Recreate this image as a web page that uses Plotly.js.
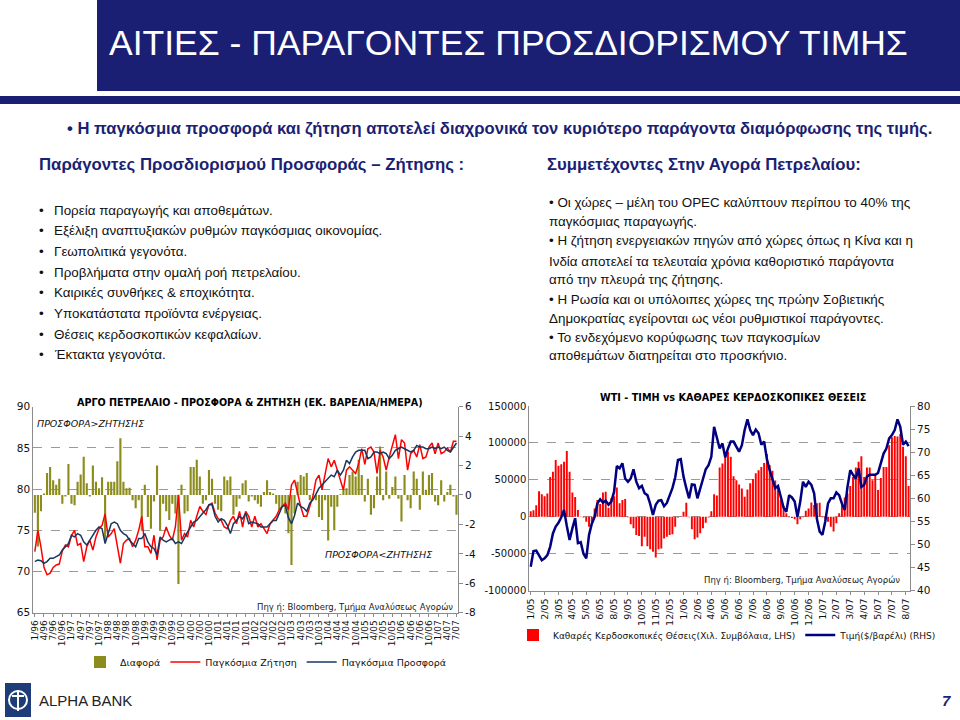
<!DOCTYPE html>
<html><head><meta charset="utf-8">
<script src="https://cdn.plot.ly/plotly-3.0.1.min.js"></script>
<style>html,body{margin:0;padding:0;background:#fff}#c{width:960px;height:720px}</style>
</head><body><div id="c"></div>
<script>
// ---------- Left chart: crude oil supply & demand (mb/d), monthly 1/96 - 7/07 ----------
const demand = [
 72.4,75.0,73.0,70.5,69.6,69.8,70.5,70.8,70.9,72.5,73.2,73.0,
 74.4,75.0,73.2,73.4,71.2,73.0,73.8,72.6,74.2,75.2,75.6,77.0,
 74.2,74.6,75.2,73.2,71.0,73.4,73.8,74.0,73.0,73.8,75.0,76.7,
 73.0,73.0,72.2,74.4,71.4,73.8,74.2,75.4,74.4,73.8,75.4,79.3,
 73.8,74.6,74.2,76.2,75.4,76.7,77.9,77.3,76.9,78.1,78.3,77.1,
 76.4,76.2,75.4,75.2,76.2,76.7,75.8,77.3,75.4,77.3,76.7,75.4,
 76.7,75.4,75.8,75.2,74.6,75.8,76.2,76.7,77.5,77.9,78.3,77.5,
 80.5,81.1,79.3,77.9,76.7,76.7,77.9,79.1,81.1,81.7,79.9,82.0,
 83.7,82.7,83.5,82.3,81.1,79.9,82.3,82.7,82.3,81.9,83.1,84.9,
 83.0,84.9,85.1,84.5,81.9,84.7,83.9,82.3,83.9,85.4,86.6,83.7,
 86.0,85.6,82.3,84.3,84.7,83.9,85.4,83.7,83.9,85.1,85.6,84.3,
 85.6,84.3,84.5,85.0,84.5,85.8,85.8];
const supply = [
 71.2,71.4,71.3,71.0,71.2,71.6,71.6,71.8,72.0,72.6,73.0,73.4,
 74.4,74.2,74.6,74.4,73.6,73.2,73.8,74.4,75.0,75.4,75.2,73.4,
 74.6,75.8,76.0,75.8,75.0,74.6,74.4,73.8,73.4,73.0,74.0,74.0,
 74.6,73.6,73.0,72.8,72.0,74.2,73.8,73.6,73.8,74.0,73.4,73.6,
 73.4,74.2,74.8,75.4,76.0,76.2,76.7,77.1,77.5,78.1,78.1,76.7,
 76.0,76.4,76.2,75.6,74.6,75.8,76.2,76.7,76.4,77.1,75.8,76.0,
 75.9,75.8,75.4,75.4,75.4,75.8,76.2,76.2,77.0,77.9,78.0,76.5,
 75.8,76.8,78.3,77.9,77.7,77.3,78.3,78.7,79.4,80.1,80.5,80.9,
 81.3,81.7,81.5,82.3,81.7,82.3,83.5,83.1,83.9,84.5,84.7,84.7,
 84.7,83.7,83.9,84.5,84.5,84.3,84.5,84.3,83.7,84.1,84.7,84.9,
 85.1,84.9,84.7,84.5,84.7,85.3,85.1,85.1,84.9,84.9,85.1,84.9,
 85.1,84.9,85.1,84.7,84.5,85.1,85.6];
const difference = [
 -1.2,-3.5,-1.1,0.1,1.5,1.9,1.0,0.7,1.1,-0.6,-0.1,2.1,
 -0.6,-0.7,0.9,1.4,2.6,0.8,-0.1,2.0,0.9,0.45,1.2,-3.1,
 0.9,0.9,0.9,2.3,3.85,0.9,0.45,0.5,-0.35,-0.9,-0.35,-2.4,
 0.7,-1.5,-2.3,-0.45,2.0,-2.4,-0.6,-1.1,-1.7,-0.6,-1.25,-6.05,
 0.7,-1.25,-1.1,1.9,1.9,2.4,1.25,-0.6,-0.35,1.7,1.1,-0.6,
 -1.0,-1.1,1.25,1.0,1.25,-1.35,-0.8,-0.25,0.8,1.0,-0.45,-0.1,
 -0.35,-0.6,-0.8,0.2,1.0,0.2,0.1,-0.6,-1.0,-0.8,-1.25,-2.6,
 -4.75,-1.25,0.9,1.35,1.25,1.5,-0.35,0.05,-0.35,-1.5,-1.7,-0.35,
 -3.1,-0.8,-2.4,-0.8,0.05,0.35,0.45,1.35,1.6,1.25,2.4,1.35,
 -0.45,1.1,-1.35,-0.9,1.25,3.3,-0.35,1.6,-0.25,0.55,1.25,-0.25,
 -1.8,1.35,-0.35,-0.9,1.6,1.1,-1.0,1.6,0.35,1.35,1.5,-0.45,
 -0.7,1.0,-0.45,0.2,0.7,-0.1,-1.35];
const monthTicks = ['1/96','4/96','7/96','10/96','1/97','4/97','7/97','10/97','1/98','4/98','7/98','10/98',
 '1/99','4/99','7/99','10/99','1/00','4/00','7/00','10/00','1/01','4/01','7/01','10/01','1/02','4/02','7/02','10/02',
 '1/03','4/03','7/03','10/03','1/04','4/04','7/04','10/04','1/05','4/05','7/05','10/05','1/06','4/06','7/06','10/06',
 '1/07','4/07','7/07'];
const diffTickVals = [-8, -6, -4, -2, 0, 2, 4, 6];
const diffTickText = ['-8', '-6', '-4', '-2', '0', '2', '4', '6'];

// ---------- Right chart: WTI price vs net speculative positions, weekly from 4 Jan 2005 ----------
const netPositions = [
 7600,9000,15800,34500,30700,28000,31600,54000,61000,77000,
 69000,71000,74600,89000,61000,33000,26800,9200,500,-1000,
 -6600,-13300,-6600,11400,22700,17300,33000,34000,12400,25000,
 28000,39700,18200,22700,24000,-500,-10000,-15600,-24600,-26000,
 -39700,-27000,-39700,-44000,-47400,-55000,-44000,-43000,-29300,-27000,
 -24600,-23500,-13300,-1000,500,7000,19000,-500,-16700,-30500,
 -28000,-22300,-15600,-8100,-1000,7600,30700,29000,66800,72300,
 86800,88000,81300,55000,49600,43900,38300,27000,37000,45400,
 51200,59000,63000,67600,73000,85000,70000,62500,49000,41000,
 22700,14500,4700,-500,-1700,-3400,-10000,-3400,-500,8300,
 11400,19500,16000,18200,19000,-500,-3400,-6600,-13300,-20000,
 -8800,4700,16000,26000,31600,41600,54000,66800,74600,82000,
 54000,66800,66800,49600,56500,36400,52500,67600,67600,97000,
 107600,109500,108600,112000,95000,82000,41600];
const wtiPrice = [
 45.2,48.6,48.7,47.7,46.6,47.0,47.7,49.5,52.4,53.9,
 54.7,55.9,57.5,54.0,51.0,53.5,55.7,50.3,50.5,48.0,
 47.0,52.1,54.5,56.0,58.9,59.8,59.1,59.5,58.6,59.3,
 61.4,67.0,66.5,67.6,64.3,63.6,64.3,66.3,63.6,62.2,
 62.7,61.1,60.7,58.8,56.4,58.6,59.5,59.6,58.3,59.0,
 60.4,62.2,64.5,68.3,68.5,64.7,62.2,60.0,63.0,62.9,
 60.0,62.3,64.5,66.3,67.2,69.0,75.5,73.4,70.8,71.9,
 68.9,70.8,72.3,72.3,71.2,70.1,71.5,74.8,77.1,74.8,
 73.7,74.9,74.1,71.6,72.3,68.5,66.1,64.3,62.2,62.7,
 60.0,58.0,57.1,60.7,60.2,59.3,56.0,59.3,63.6,62.5,
 63.6,62.9,61.1,55.5,52.8,52.1,55.0,58.9,60.0,60.0,
 61.3,60.7,58.9,57.5,62.5,66.1,65.1,64.3,66.5,62.5,
 62.9,64.7,65.1,65.1,65.1,65.5,67.5,69.7,70.8,73.0,
 73.7,74.8,77.1,75.5,71.6,72.3,71.3];
const weekTicks = ['1/05','2/05','3/05','4/05','5/05','6/05','8/05','9/05','10/05','11/05','12/05',
 '1/06','2/06','4/06','5/06','6/06','7/06','8/06','9/06','10/06','12/06','1/07','2/07','3/07','4/07','5/07','7/07','8/07'];
const posTickVals = [-100000, -50000, 0, 50000, 100000, 150000];
const posTickText = ['-100000', '-50000', '0', '50000', '100000', '150000'];

// ---------- categories ----------
const months = [];
for (let y = 1996; y <= 2007; y++) for (let m = 1; m <= 12; m++) {
  if (y === 2007 && m > 7) break;
  months.push(m + '/' + String(y % 100).padStart(2, '0'));
}
const weeks = [];
const d0 = Date.UTC(2005, 0, 4);
for (let i = 0; i < wtiPrice.length; i++) weeks.push(new Date(d0 + i * 7 * 864e5).toISOString().slice(0, 10));
const weekTickVals = weekTicks.map((_, i) => weeks[i * 5]);

// ---------- helpers ----------
const W = 960, H = 720;
const px = x => x / W, py = y => 1 - y / H;
const NAVY = '#1b1f73';
const BODY = 'Liberation Sans, Arial, sans-serif';
const TAH = 'DejaVu Sans, Verdana, sans-serif';

function note(text, x, y, opts) {
  return Object.assign({text, x: px(x), y: py(y), xref: 'paper', yref: 'paper', showarrow: false,
    xanchor: 'left', yanchor: 'middle', font: {family: BODY, size: 13.4, color: '#111'}}, opts || {});
}

const ann = [];
ann.push(note('ΑΙΤΙΕΣ - ΠΑΡΑΓΟΝΤΕΣ ΠΡΟΣΔΙΟΡΙΣΜΟΥ ΤΙΜΗΣ', 509, 43, {xanchor: 'center', font: {family: BODY, size: 35.5, color: '#ffffff'}}));
ann.push(note('<b>• Η παγκόσμια προσφορά και ζήτηση αποτελεί διαχρονικά τον κυριότερο παράγοντα διαμόρφωσης της τιμής.</b>', 499, 128, {xanchor: 'center', font: {family: BODY, size: 16.6, color: NAVY}}));
ann.push(note('<b>Παράγοντες Προσδιορισμού Προσφοράς – Ζήτησης :</b>', 37, 165, {font: {family: BODY, size: 16.8, color: NAVY}}));
ann.push(note('<b>Συμμετέχοντες Στην Αγορά Πετρελαίου:</b>', 545, 165, {font: {family: BODY, size: 16.8, color: NAVY}}));

const leftItems = ['Πορεία παραγωγής και αποθεμάτων.', 'Εξέλιξη αναπτυξιακών ρυθμών παγκόσμιας οικονομίας.',
  'Γεωπολιτικά γεγονότα.', 'Προβλήματα στην ομαλή ροή πετρελαίου.', 'Καιρικές συνθήκες & εποχικότητα.',
  'Υποκατάστατα προϊόντα ενέργειας.', 'Θέσεις κερδοσκοπικών κεφαλαίων.', 'Έκτακτα γεγονότα.'];
leftItems.forEach((t, i) => {
  const y = 210 + i * 20.7;
  ann.push(note('•', 37, y));
  ann.push(note(t, 52, y));
});
const rightLines = [
  ['• Οι χώρες – μέλη του OPEC καλύπτουν περίπου το 40% της', 202],
  ['παγκόσμιας παραγωγής.', 221],
  ['• Η ζήτηση ενεργειακών πηγών από χώρες όπως η Κίνα και η', 241],
  ['Ινδία αποτελεί τα τελευταία χρόνια καθοριστικό παράγοντα', 261],
  ['από την πλευρά της ζήτησης.', 280],
  ['• Η Ρωσία και οι υπόλοιπες χώρες της πρώην Σοβιετικής', 299],
  ['Δημοκρατίας εγείρονται ως νέοι ρυθμιστικοί παράγοντες.', 318],
  ['• Το ενδεχόμενο κορύφωσης των παγκοσμίων', 337],
  ['αποθεμάτων διατηρείται στο προσκήνιο.', 355]];
rightLines.forEach(([t, y]) => ann.push(note(t, 547, y)));

// chart texts
ann.push(note('<b>ΑΡΓΟ ΠΕΤΡΕΛΑΙΟ - ΠΡΟΣΦΟΡΑ & ΖΗΤΗΣΗ (ΕΚ. ΒΑΡΕΛΙΑ/ΗΜΕΡΑ)</b>', 250, 402, {xanchor: 'center', font: {family: TAH, size: 9.6, color: '#000'}}));
ann.push(note('<i>ΠΡΟΣΦΟΡΑ>ΖΗΤΗΣΗΣ</i>', 35, 423, {font: {family: TAH, size: 9.5, color: '#111'}}));
ann.push(note('<i>ΠΡΟΣΦΟΡΑ<ΖΗΤΗΣΗΣ</i>', 323, 554, {font: {family: TAH, size: 9.5, color: '#111'}}));
ann.push(note('Πηγ ή: Bloomberg, Τμήμα Αναλύσεως Αγορών', 455, 607, {xanchor: 'right', font: {family: TAH, size: 8.5, color: '#222'}}));
ann.push(note('<b>WTI - ΤΙΜΗ vs ΚΑΘΑΡΕΣ ΚΕΡΔΟΣΚΟΠΙΚΕΣ ΘΕΣΕΙΣ</b>', 733, 397, {xanchor: 'center', font: {family: TAH, size: 9.7, color: '#000'}}));
ann.push(note('Πηγ ή: Bloomberg, Τμήμα Αναλύσεως Αγορών', 902, 580, {xanchor: 'right', font: {family: TAH, size: 8.5, color: '#222'}}));

// footer
ann.push(note('ALPHA BANK', 37, 700, {font: {family: 'Liberation Sans, Arial', size: 15, color: '#222'}}));
ann.push(note('<b><i>7</i></b>', 946, 700, {xanchor: 'center', font: {family: 'Liberation Sans, Arial', size: 15, color: NAVY}}));

const shapes = [
  {type: 'rect', xref: 'paper', yref: 'paper', x0: px(97), x1: px(960), y0: py(0), y1: py(91), fillcolor: NAVY, line: {width: 0}, layer: 'below'},
  {type: 'rect', xref: 'paper', yref: 'paper', x0: px(0), x1: px(960), y0: py(96), y1: py(104), fillcolor: NAVY, line: {width: 0}, layer: 'below'},
  {type: 'rect', xref: 'paper', yref: 'paper', x0: px(5), x1: px(31), y0: py(683), y1: py(717), fillcolor: '#1d3c78', line: {width: 0}},
  {type: 'circle', xref: 'paper', yref: 'paper', x0: px(9), x1: px(27), y0: py(691), y1: py(709), line: {color: '#fff', width: 2}},
  {type: 'line', xref: 'paper', yref: 'paper', x0: px(18), x1: px(18), y0: py(690), y1: py(711), line: {color: '#fff', width: 2}},
  {type: 'line', xref: 'paper', yref: 'paper', x0: px(12), x1: px(24), y0: py(696), y1: py(696), line: {color: '#fff', width: 2}}
];

const traces = [
  {type: 'bar', x: months, y: difference, xaxis: 'x', yaxis: 'y', name: 'Διαφορά', marker: {color: '#8c8c1c'}, legend: 'legend'},
  {type: 'scatter', mode: 'lines', x: months, y: demand, xaxis: 'x', yaxis: 'y2', name: 'Παγκόσμια Ζήτηση', line: {color: '#ff0000', width: 1.5}, legend: 'legend'},
  {type: 'scatter', mode: 'lines', x: months, y: supply, xaxis: 'x', yaxis: 'y2', name: 'Παγκόσμια Προσφορά', line: {color: '#17375e', width: 1.5}, legend: 'legend'},
  {type: 'bar', x: weeks, y: netPositions, xaxis: 'x2', yaxis: 'y3', name: 'Καθαρές Κερδοσκοπικές Θέσεις(Χιλ. Συμβόλαια, LHS)', marker: {color: '#ff0000'}, legend: 'legend2'},
  {type: 'scatter', mode: 'lines', x: weeks, y: wtiPrice, xaxis: 'x2', yaxis: 'y4', name: 'Τιμή($/βαρέλι) (RHS)', line: {color: '#000080', width: 2.5}, legend: 'legend2'}
];

const tickF = {family: TAH, size: 10.5, color: '#111'};
const axisBase = {showline: true, linecolor: '#8c8c8c', linewidth: 1, zeroline: false, fixedrange: true};
const layout = {
  width: W, height: H, margin: {l: 0, r: 0, t: 0, b: 0}, paper_bgcolor: '#fff', plot_bgcolor: 'rgba(0,0,0,0)',
  showlegend: true, hovermode: false, bargap: 0.3, annotations: ann, shapes: shapes,
  xaxis: Object.assign({}, axisBase, {domain: [px(33.3), px(458)], anchor: 'y', type: 'category',
    tickmode: 'array', tickvals: monthTicks, ticktext: monthTicks, tickangle: -90,
    tickfont: {family: TAH, size: 9, color: '#111'}, ticks: 'outside', ticklen: 3, tickcolor: '#8c8c8c', showgrid: false}),
  yaxis: Object.assign({}, axisBase, {domain: [py(612.7), py(406.7)], anchor: 'x', side: 'right', range: [-8, 6],
    tickmode: 'array', tickvals: diffTickVals, ticktext: diffTickText,
    showgrid: false, ticks: 'outside', ticklen: 4, tickcolor: '#8c8c8c', tickfont: tickF}),
  yaxis2: Object.assign({}, axisBase, {overlaying: 'y', anchor: 'x', side: 'left', range: [65, 90], dtick: 5,
    showgrid: true, gridcolor: '#9a9a9a', griddash: 'dash', gridwidth: 1, ticks: '', tickfont: tickF}),
  xaxis2: Object.assign({}, axisBase, {domain: [px(529.3), px(910)], anchor: 'y3', type: 'category',
    tickmode: 'array', tickvals: weekTickVals, ticktext: weekTicks, tickangle: -90,
    tickfont: {family: TAH, size: 9.5, color: '#111'}, ticks: 'outside', ticklen: 3, tickcolor: '#8c8c8c', showgrid: false}),
  yaxis3: Object.assign({}, axisBase, {domain: [py(590.7), py(406)], anchor: 'x2', side: 'left', range: [-100000, 150000],
    tickmode: 'array', tickvals: posTickVals, ticktext: posTickText,
    showgrid: true, gridcolor: '#9a9a9a', griddash: 'dash', gridwidth: 1, ticks: '', tickfont: {family: TAH, size: 10, color: '#111'}}),
  yaxis4: Object.assign({}, axisBase, {overlaying: 'y3', anchor: 'x2', side: 'right', range: [40, 80], dtick: 5,
    showgrid: false, ticks: 'outside', ticklen: 4, tickcolor: '#8c8c8c', tickfont: tickF}),
  legend: {orientation: 'h', x: px(80), xanchor: 'left', y: py(662), yanchor: 'middle', bgcolor: 'rgba(0,0,0,0)',
    font: {family: TAH, size: 9.5, color: '#111'}, itemwidth: 30, tracegroupgap: 0},
  legend2: {orientation: 'h', x: px(513), xanchor: 'left', y: py(635), yanchor: 'middle', bgcolor: 'rgba(0,0,0,0)',
    font: {family: TAH, size: 9, color: '#111'}, itemwidth: 30}
};

Plotly.newPlot('c', traces, layout, {staticPlot: true, displayModeBar: false});
</script></body></html>
